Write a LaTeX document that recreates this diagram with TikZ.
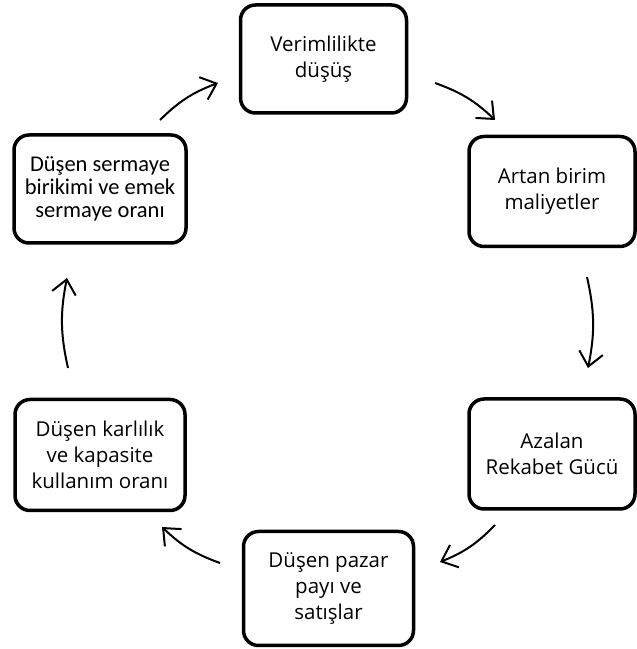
\documentclass[tikz,border=0pt]{standalone}
\usepackage{fontspec}
\setmainfont{Open Sans}
\newfontfamily\leftfont{Carlito}
\usetikzlibrary{arrows.meta}
\tikzset{
  stagebox/.style={draw, line width=3.5pt, rounded corners=15pt, align=center,
    inner sep=0pt, minimum width=166pt, minimum height=108pt, font=\fontsize{20.5}{26}\selectfont},
  flowarrow/.style={line width=2pt, -{Straight Barb[length=14pt,width=24pt,line width=2pt]}, bend left=12}
}
\begin{document}
\begin{tikzpicture}[x=1pt, y=1pt]
\useasboundingbox (0,0) rectangle (637,649);
\node[stagebox] (verim) at (323.5, 590) {Verimlilikte\\düşüş}; % Stage.0
\node[stagebox, minimum height=110pt] (maliyet) at (552, 457.5) {Artan birim\\maliyetler}; % Stage.1
\node[stagebox, minimum height=110pt] (rekabet) at (552, 195) {Azalan\\Rekabet Gücü}; % Stage.2
\node[stagebox, minimum width=170pt, minimum height=114pt] (pazar) at (328.5, 60.5) {Düşen pazar\\payı ve\\satışlar}; % Stage.3
\node[stagebox, minimum width=170pt, minimum height=111pt] (karlilik) at (100, 194) {Düşen karlılık\\ve kapasite\\kullanım oranı}; % Stage.4
\node[stagebox, minimum width=172pt, font=\leftfont\fontsize{22.5}{23}\selectfont] (sermaye) at (100, 460) {Düşen sermaye\\birikimi ve emek\\sermaye oranı}; % Stage.5
\coordinate (a0) at (435, 566); \coordinate (b0) at (495, 529); % verim -> maliyet
\coordinate (a1) at (587, 372); \coordinate (b1) at (588, 281); % maliyet -> rekabet
\coordinate (a2) at (495, 124); \coordinate (b2) at (440, 87);  % rekabet -> pazar
\coordinate (a3) at (220, 86);  \coordinate (b3) at (162, 122); % pazar -> karlilik
\coordinate (a4) at (68, 281);  \coordinate (b4) at (67, 371);  % karlilik -> sermaye
\coordinate (a5) at (160, 529); \coordinate (b5) at (218, 566); % sermaye -> verim
\foreach \i in {0,...,5}
  \draw[flowarrow] (a\i) to (b\i);
\end{tikzpicture}
\end{document}
